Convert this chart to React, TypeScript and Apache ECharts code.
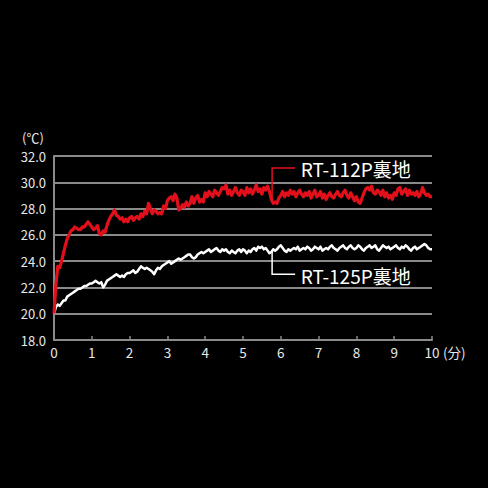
import React, { useEffect, useRef } from "react";
import * as echarts from "echarts";

// elapsed time (min), sampled every 0.05 min from 0 to 10
const times: number[] = Array.from({ length: 201 }, (_, i) => Math.round(i * 5) / 100);

// surface temperature (℃) of RT-112P lining
const rt112p: number[] = [
  20.0, 22.2, 23.6, 23.5, 24.0, 24.6, 25.2, 25.7, 26.0, 26.3,
  26.4, 26.6, 26.5, 26.4, 26.4, 26.6, 26.6, 26.8, 27.0, 26.8,
  26.6, 26.4, 26.5, 26.7, 26.1, 26.0, 26.3, 26.2, 26.7, 27.1,
  27.4, 27.6, 27.9, 27.5, 27.4, 27.2, 27.3, 27.0, 27.2, 27.0,
  27.3, 27.4, 27.1, 27.3, 27.4, 27.2, 27.6, 27.4, 27.8, 27.6,
  28.4, 28.0, 27.6, 27.9, 27.8, 27.6, 27.7, 27.6, 28.2, 28.0,
  28.6, 28.8, 28.9, 28.6, 29.1, 28.8, 27.9, 28.0, 28.3, 28.1,
  28.5, 28.2, 28.4, 28.9, 28.4, 28.8, 29.0, 28.5, 28.7, 28.5,
  29.2, 28.9, 29.3, 29.1, 28.9, 29.4, 29.2, 29.0, 29.3, 29.6,
  29.5, 29.8, 29.1, 29.4, 29.0, 29.3, 29.6, 29.2, 29.0, 29.4,
  29.3, 29.0, 29.6, 29.2, 29.5, 29.1, 29.4, 29.8, 29.3, 29.5,
  29.1, 29.6, 29.4, 29.7, 29.3, 28.7, 28.4, 28.5, 28.4, 28.8,
  29.0, 29.3, 28.9, 29.2, 29.0, 29.4, 29.1, 29.3, 28.9, 29.2,
  29.4, 29.1, 28.9, 29.2, 29.0, 29.3, 28.8, 29.1, 29.4, 28.9,
  29.0, 29.3, 28.8, 29.1, 28.7, 29.0, 29.2, 28.9, 28.8, 29.1,
  29.3, 29.0, 28.9, 29.2, 29.4, 29.0, 28.8, 29.2, 28.9, 28.6,
  28.9, 28.5, 28.4, 28.8, 29.2, 29.5, 29.6, 29.4, 29.7, 29.2,
  29.1, 29.4, 29.3, 29.0, 29.4, 28.9, 29.2, 28.8, 29.0, 28.7,
  29.2, 29.0, 29.5, 29.6, 29.1, 29.3, 29.5, 29.0, 29.4, 29.1,
  29.2, 29.0, 29.3, 28.9, 29.1, 29.6, 29.2, 29.0, 29.1, 28.9,
  28.9,
];

// surface temperature (℃) of RT-125P lining
const rt125p: number[] = [
  20.0, 20.5, 20.7, 20.6, 20.8, 21.0, 21.0, 21.3, 21.4, 21.5,
  21.6, 21.7, 21.8, 21.9, 21.9, 22.0, 22.1, 22.1, 22.2, 22.3,
  22.3, 22.4, 22.5, 22.4, 22.3, 22.4, 22.0, 22.2, 22.5, 22.6,
  22.7, 22.8, 22.9, 23.0, 22.9, 22.8, 22.9, 22.8, 23.0, 23.1,
  23.1, 23.2, 23.3, 23.1, 23.2, 23.4, 23.6, 23.5, 23.4, 23.5,
  23.4, 23.3, 23.2, 23.0, 23.3, 23.5, 23.4, 23.6, 23.7, 23.8,
  23.9, 24.0, 23.8, 23.9, 24.0, 24.1, 24.2, 24.1, 24.2, 24.3,
  24.4, 24.5, 24.5, 24.3, 24.2, 24.3, 24.5, 24.6, 24.7, 24.6,
  24.7, 24.8, 24.9, 24.7, 24.8, 24.9, 25.0, 24.8, 24.7, 24.9,
  24.8, 24.9, 24.7, 24.6, 24.8, 24.7, 24.6, 24.8, 24.9, 24.7,
  24.9, 24.8, 24.6, 24.8, 24.7, 24.9, 25.0, 24.8, 25.1, 25.0,
  25.1, 24.9, 25.0, 24.8, 24.6, 24.7, 24.9, 24.8, 24.9, 25.1,
  25.2, 25.0, 24.8, 24.7, 24.9, 24.8, 24.9, 25.0, 24.9, 25.1,
  24.8, 24.9, 25.0, 24.9, 25.1, 25.0, 24.8, 24.9, 25.1, 25.0,
  24.9, 25.1, 24.8, 24.9, 25.0, 24.9, 25.1, 25.2, 25.0, 24.9,
  24.8, 25.0, 25.1, 25.2, 25.0, 24.9, 25.1, 25.2, 25.0, 24.9,
  25.0, 25.2, 25.1, 24.9, 24.8, 25.0, 25.1, 25.2, 25.0, 25.1,
  25.2, 24.9, 24.8, 25.0, 25.2, 25.1, 25.0, 25.1, 24.9, 25.0,
  25.1, 25.2, 25.0, 24.9, 25.1, 25.0, 25.2, 25.1, 24.9, 24.8,
  25.0, 25.1, 24.9, 25.0, 25.1, 25.2, 25.3, 25.2, 25.0, 24.9,
  24.9,
];

const seriesNames = ["RT-112P裏地", "RT-125P裏地"];
const seriesColors = ["#e3101c", "#ffffff"];

// callout anchors in data units
const calloutX = 5.77;
const calloutEndX = 6.38;
const calloutTextX = 6.53;
const redCallout = [31.09, 28.45]; // [elbow, line end]
const whiteCallout = [24.85, 23.0]; // [line start, elbow]

const FONT = '"Noto Sans CJK JP", "Noto Sans", sans-serif';

export default function App() {
  const ref = useRef<HTMLDivElement>(null);

  useEffect(() => {
    if (!ref.current) return;
    const chart = echarts.init(ref.current, undefined, { renderer: "svg" });

    chart.setOption({
      animation: false,
      backgroundColor: "#000000",
      grid: { left: 54, top: 156, width: 378, height: 184, containLabel: false },
      xAxis: {
        type: "value",
        min: 0,
        max: 10,
        interval: 1,
        axisLine: { show: true, lineStyle: { color: "#8a8a8a", width: 2 } },
        axisTick: { show: true, inside: true, length: 4, lineStyle: { color: "#8a8a8a", width: 1.5 } },
        axisLabel: { color: "#e8e8e8", fontSize: 13.5, fontFamily: FONT, margin: 5 },
        splitLine: { show: false },
      },
      yAxis: {
        type: "value",
        min: 18,
        max: 32,
        interval: 2,
        axisLine: { show: true, lineStyle: { color: "#8a8a8a", width: 2 } },
        axisTick: { show: false },
        axisLabel: {
          color: "#e8e8e8",
          fontSize: 13,
          fontFamily: FONT,
          margin: 8,
          formatter: (v: number) => v.toFixed(1),
        },
        splitLine: { show: true, lineStyle: { color: "#8a8a8a", width: 2 } },
      },
      series: [
        {
          name: seriesNames[1],
          type: "line",
          data: times.map((t, i) => [t, rt125p[i]]),
          showSymbol: false,
          lineStyle: { color: seriesColors[1], width: 2.5, join: "round" },
          z: 3,
        },
        {
          name: seriesNames[0],
          type: "line",
          data: times.map((t, i) => [t, rt112p[i]]),
          showSymbol: false,
          lineStyle: { color: seriesColors[0], width: 3.2, join: "round" },
          z: 4,
        },
      ],
    });

    const px = (x: number, y: number) =>
      chart.convertToPixel({ gridIndex: 0 }, [x, y]) as number[];

    const callout = (vals: number[], color: string, text: string, elbowAtTop: boolean) => {
      const a = px(calloutX, vals[0]);
      const b = px(calloutX, vals[1]);
      const elbowY = elbowAtTop ? a[1] : b[1];
      const otherY = elbowAtTop ? b[1] : a[1];
      const end = px(calloutEndX, vals[0]);
      const txt = px(calloutTextX, vals[0]);
      return [
        {
          type: "polyline",
          shape: {
            points: [
              [a[0], otherY],
              [a[0], elbowY],
              [end[0], elbowY],
            ],
          },
          style: { stroke: color, lineWidth: 1.5, fill: "none" },
          z: 10,
        },
        {
          type: "text",
          x: txt[0],
          y: elbowY + 1,
          style: {
            text,
            fill: "#ffffff",
            fontSize: 19,
            fontWeight: 400,
            fontFamily: FONT,
            verticalAlign: "middle",
            align: "left",
          },
          z: 10,
        },
      ];
    };

    chart.setOption({
      graphic: [
        ...callout(redCallout, seriesColors[0], seriesNames[0], true),
        ...callout(whiteCallout, seriesColors[1], seriesNames[1], false),
        {
          type: "text",
          x: 22,
          y: 137,
          style: {
            text: "(℃)",
            fill: "#e8e8e8",
            fontSize: 13,
            fontFamily: FONT,
            verticalAlign: "middle",
          },
        },
        {
          type: "text",
          x: 443,
          y: 352,
          style: {
            text: "(分)",
            fill: "#e8e8e8",
            fontSize: 13.5,
            fontFamily: FONT,
            verticalAlign: "middle",
          },
        },
      ],
    });

    return () => chart.dispose();
  }, []);

  return (
    <div
      ref={ref}
      style={{ position: "fixed", left: 0, top: 0, width: 488, height: 488, background: "#000" }}
    />
  );
}
